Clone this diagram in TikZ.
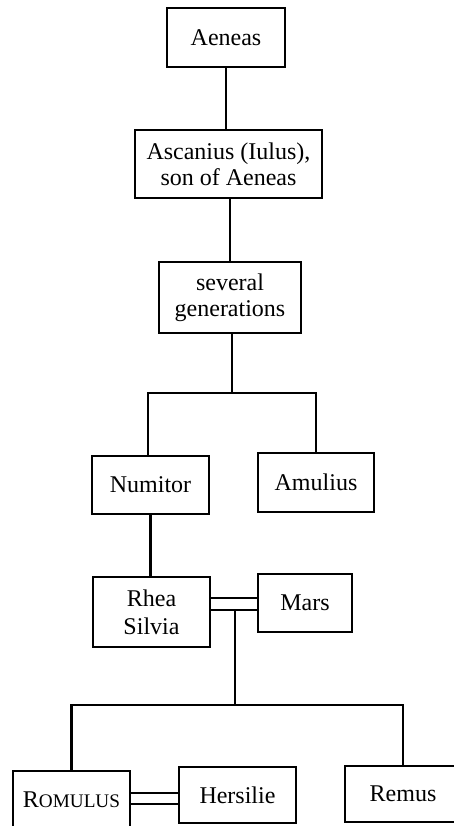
\documentclass[tikz,border=0pt]{standalone}
\usepackage{fontspec}
\setmainfont{Liberation Serif}
\begin{document}
\begin{tikzpicture}[x=0.5pt,y=-0.5pt,
  person/.style={draw, line width=1.4pt, inner sep=0pt, align=center,
    font=\fontsize{12}{13}\selectfont},
  link/.style={line width=1.3pt}]
\useasboundingbox (0,0) rectangle (454,826);
\clip (0,0) rectangle (454,826);
\fill[white] (0,0) rectangle (454,826);

% family members (width/height in pt)
\node[person, minimum width=59pt, minimum height=29.5pt] (aeneas) at (226,37.5) {Aeneas};
\node[person, minimum width=93.5pt, minimum height=34pt] (ascanius) at (228.5,164) {Ascanius (Iulus),\\son of Aeneas};
\node[person, minimum width=71pt, minimum height=35.5pt] (gens) at (230,297.5) {several\\generations};
\node[person, minimum width=58.5pt, minimum height=29pt] (numitor) at (150.5,485) {Numitor};
\node[person, minimum width=58pt, minimum height=29.5pt] (amulius) at (316,482.5) {Amulius};
\node[person, minimum width=58.5pt, minimum height=35pt, font=\fontsize{12}{14}\selectfont] (rhea) at (151.5,612) {Rhea\\Silvia};
\node[person, minimum width=47pt, minimum height=29pt] (mars) at (305,603) {Mars};
\node[person, minimum width=58.5pt, minimum height=29pt] (romulus) at (71.5,800) {R{\fontsize{9.6}{11}\selectfont OMULUS}};
\node[person, minimum width=58.5pt, minimum height=28pt] (hersilie) at (237.5,795) {Hersilie};
\node[person, minimum width=58pt, minimum height=28pt] (remus) at (403,794) {Remus};

% line of descent
\draw[link] (aeneas.south) -- (aeneas.south |- ascanius.north);
\draw[link] (gens.north) -- (gens.north |- ascanius.south);

\coordinate (fork1) at (232,393);
\draw[link] (gens.south -| fork1) -- (fork1);
\draw[link] (numitor.north -| 148,0) |- (fork1) -| (amulius.north);
\draw[link] (numitor.south) -- (numitor.south |- rhea.north);

% marriage of Rhea Silvia and Mars
\coordinate (wedA) at (235,598);
\coordinate (wedB) at (235,610);
\draw[link] (rhea.east |- wedA) -- (mars.west |- wedA);
\draw[link] (rhea.east |- wedB) -- (mars.west |- wedB);

\coordinate (fork2) at (235,705);
\draw[link] (wedB) -- (fork2);
\draw[link] (romulus.north) |- (fork2) -| (remus.north);

% marriage of Romulus and Hersilie
\coordinate (wedC) at (155,793);
\coordinate (wedD) at (155,804);
\draw[link] (romulus.east |- wedC) -- (hersilie.west |- wedC);
\draw[link] (romulus.east |- wedD) -- (hersilie.west |- wedD);
\end{tikzpicture}
\end{document}
